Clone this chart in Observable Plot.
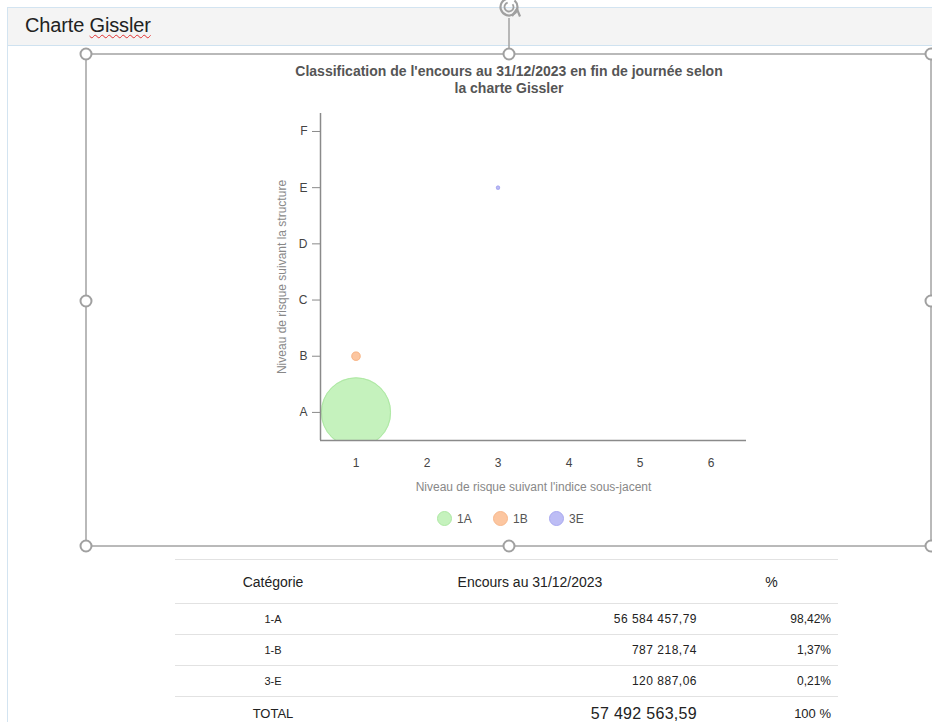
<!DOCTYPE html>
<html lang="fr">
<head>
<meta charset="utf-8">
<script src="https://cdn.jsdelivr.net/npm/d3@7"></script>
<script src="https://cdn.jsdelivr.net/npm/@observablehq/plot@0.6"></script>
<style>
  html, body { margin: 0; padding: 0; background: #fff; }
  body { font-family: "Liberation Sans", Arial, sans-serif; }
  #page { position: relative; width: 932px; height: 722px; overflow: hidden; background: #fff; }
  #frame { position: absolute; left: 7px; top: 7px; width: 940px; height: 730px; border-left: 1px solid #d3e4f1; border-top: 1px solid #d3e4f1; }
  #header { position: absolute; left: 8px; top: 8px; width: 940px; height: 37px; background: #f4f4f4; border-bottom: 1px solid #cfe2f0; }
  #header span.t { position: absolute; left: 17px; top: 6px; font-size: 20px; color: #222; letter-spacing: -0.15px; }
  #header span.w { text-decoration: underline wavy #e03030; text-decoration-thickness: 1px; text-underline-offset: 2px; }
  #title { position: absolute; left: 159px; width: 700px; top: 63px; text-align: center; font-size: 14px; font-weight: bold; color: #555; line-height: 17px; }
  #chart { position: absolute; left: 0; top: 100px; }
  #legend { position: absolute; top: 511px; left: 437px; display: flex; font-size: 12px; color: #555; }
  #legend .item { display: flex; align-items: center; margin-right: 20px; }
  #legend .sw { width: 15px; height: 15px; border-radius: 50%; margin-right: 5px; box-sizing: border-box; border: 1px solid; }
  #legend .lb { display: inline-block; width: 16px; }
  #overlay { position: absolute; left: 0; top: 0; pointer-events: none; }
  #tbl { position: absolute; left: 175px; top: 559px; width: 663px; table-layout: fixed; border-collapse: collapse; color: #222; }
  #tbl td, #tbl th { border-top: 1px solid #e2e2e2; padding: 0; font-weight: normal; }
  #tbl th { height: 43px; font-size: 14px; }
  #tbl td { height: 30px; font-size: 11px; }
  #tbl td.c2 { font-size: 12px; letter-spacing: 0.5px; }
  #tbl td.c3 { font-size: 12px; }
  #tbl tr.total td { height: 33px; font-size: 13px; letter-spacing: 0; }
  #tbl tr.total td.c2 { font-size: 16px; letter-spacing: 0.3px; }
  .c1 { text-align: center; }
  th.c2 { text-align: center; padding-right: 16px !important; }
  td.c2 { text-align: right; padding-right: 8px !important; }
  th.c3 { text-align: center; }
  td.c3 { text-align: right; padding-right: 7px !important; }
</style>
</head>
<body>
<div id="page">
  <div id="frame"></div>
  <div id="header"><span class="t">Charte <span class="w">Gissler</span></span></div>
  <div id="title">Classification de l'encours au 31/12/2023 en fin de journée selon<br>la charte Gissler</div>
  <div id="chart"></div>
  <div id="legend"></div>
  <table id="tbl"><colgroup><col style="width:196px"><col style="width:334px"><col style="width:133px"></colgroup><tbody id="tb"></tbody></table>
  <svg id="overlay" width="932" height="722"></svg>
</div>
<script>
// ---- Data ----
const categories = ["1A", "1B", "3E"];
const xLevels = [1, 1, 3];                // Niveau de risque suivant l'indice sous-jacent
const yLevels = ["A", "B", "E"];          // Niveau de risque suivant la structure
const encours = [56584457.79, 787218.74, 120887.06];
const yLetters = ["A", "B", "C", "D", "E", "F"];
const xTicks = [1, 2, 3, 4, 5, 6];
const tableLabels = ["1-A", "1-B", "3-E"];
const fillColors = ["#c5f2bd", "#fcc6a0", "#bdbdf5"];
const strokeColors = ["#aee8a4", "#f8b88c", "#a9a9f0"];

const data = categories.map((c, i) => ({
  cat: c, x: xLevels[i], y: yLetters.indexOf(yLevels[i]) + 1, v: encours[i]
}));

const fr = d3.formatLocale({decimal: ",", thousands: "\u00a0", grouping: [3], currency: ["", "€"]});
const fmt = fr.format(",.2f");
const total = d3.sum(encours);

// ---- Chart ----
const chart = Plot.plot({
  width: 932,
  height: 400,
  marginLeft: 320,
  marginRight: 186,
  marginTop: 13,
  marginBottom: 60,
  style: {fontFamily: "'Liberation Sans', Arial, sans-serif", fontSize: "12px", color: "#555", background: "transparent"},
  x: {domain: [0.5, 6.5]},
  y: {domain: [0.5, 6.32]},
  r: {type: "sqrt", domain: [0, d3.max(encours)], range: [0, 34.5]},
  color: {domain: categories, range: fillColors},
  marks: [
    Plot.dot(data, {x: "x", y: "y", r: "v", fill: "cat", stroke: "cat", strokeWidth: 1.2, clip: "frame"}),
    Plot.dot(data, {x: "x", y: "y", r: "v", fill: "none", stroke: d => strokeColors[categories.indexOf(d.cat)], strokeWidth: 1, clip: "frame"}),
    Plot.ruleX([0.5], {stroke: "#8a8a8a", strokeWidth: 1.5}),
    Plot.ruleY([0.5], {stroke: "#8a8a8a", strokeWidth: 1.5}),
    Plot.axisY({ticks: xTicks, tickFormat: d => yLetters[d - 1], tickSize: 8, tickPadding: 5, stroke: "#8a8a8a", fill: "#444", fontSize: 12, label: null}),
    Plot.axisY({ticks: [], label: "Niveau de risque suivant la structure", labelAnchor: "center", labelOffset: 43, labelArrow: "none", fontSize: 12, fill: "#888"}),
    Plot.axisX({ticks: xTicks, tickFormat: d => String(d), tickSize: 0, tickPadding: 18, fill: "#444", fontSize: 12, label: null}),
    Plot.axisX({ticks: [], label: "Niveau de risque suivant l'indice sous-jacent", labelAnchor: "center", labelOffset: 50, labelArrow: "none", fontSize: 12, fill: "#888"})
  ]
});
document.getElementById("chart").appendChild(chart);

// ---- Legend ----
const legend = document.getElementById("legend");
categories.forEach((c, i) => {
  const it = document.createElement("div");
  it.className = "item";
  it.innerHTML = `<span class="sw" style="background:${fillColors[i]};border-color:${strokeColors[i]}"></span><span class="lb">${c}</span>`;
  legend.appendChild(it);
});

// ---- Table ----
const tb = document.getElementById("tb");
let html = `<tr><th class="c1">Catégorie</th><th class="c2">Encours au 31/12/2023</th><th class="c3">%</th></tr>`;
tableLabels.forEach((l, i) => {
  html += `<tr><td class="c1">${l}</td><td class="c2">${fmt(encours[i])}</td><td class="c3">${fr.format(".2f")(encours[i] / total * 100)}%</td></tr>`;
});
html += `<tr class="total"><td class="c1">TOTAL</td><td class="c2">${fmt(total)}</td><td class="c3">100 %</td></tr>`;
tb.innerHTML = html;

// ---- Selection overlay (editor handles) ----
const ov = d3.select("#overlay");
const L = 86, R = 931, T = 54, B = 546, MX = 509, MY = 301;
const g = ov.append("g").attr("stroke", "#a3a3a3").attr("fill", "none");
g.append("rect").attr("x", L).attr("y", T).attr("width", R - L).attr("height", B - T).attr("stroke-width", 1.5);
g.append("line").attr("x1", MX).attr("x2", MX).attr("y1", 18).attr("y2", T).attr("stroke-width", 1.5);
const handles = [[L, T], [MX, T], [R, T], [L, MY], [R, MY], [L, B], [MX, B], [R, B]];
g.selectAll("circle").data(handles).join("circle")
  .attr("cx", d => d[0]).attr("cy", d => d[1]).attr("r", 5.5)
  .attr("fill", "#fff").attr("stroke", "#a0a0a0").attr("stroke-width", 2);
// rotate icon
const rot = ov.append("g").attr("transform", `translate(${MX},7)`).attr("fill", "none").attr("stroke", "#a0a0a0");
rot.append("path").attr("d", d3.arc()({innerRadius: 8.5, outerRadius: 8.5, startAngle: 0.7, endAngle: 2 * Math.PI - 0.1})).attr("stroke-width", 2.2);
rot.append("path").attr("d", d3.arc()({innerRadius: 4.5, outerRadius: 4.5, startAngle: 0.9, endAngle: 2 * Math.PI - 0.3})).attr("stroke-width", 1.8);
rot.append("path").attr("d", "M3,9 L8,2 L11,9.5").attr("stroke-width", 2.2);
</script>
</body>
</html>
